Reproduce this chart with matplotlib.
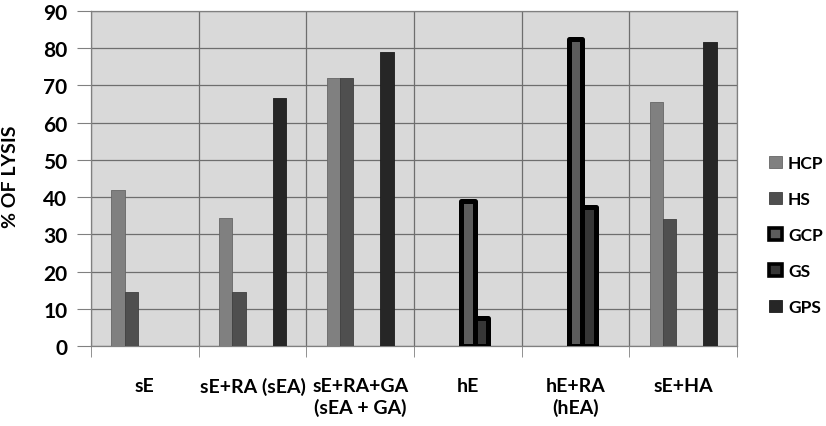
import numpy as np
import matplotlib
matplotlib.use("Agg")
import matplotlib.pyplot as plt

# data
groups = ["sE", "sE+RA (sEA)", "sE+RA+GA\n(sEA + GA)", "hE", "hE+RA\n(hEA)", "sE+HA"]
series = ["HCP", "HS", "GCP", "GS", "GPS"]
hcp = [42, 34.4, 72, None, None, 65.5]
hs = [14.5, 14.5, 72, None, None, 34]
gcp = [None, None, None, 39, 82.5, None]
gs = [None, None, None, 7.5, 37.3, None]
gps = [None, 66.6, 78.9, None, None, 81.6]

fills = ["#808080", "#4f4f4f", "#5c5c5c", "#363636", "#262626"]
edges = ["#666666", "#404040", "#000000", "#000000", "#1c1c1c"]
lws = [0.6, 0.6, 3.6, 3.6, 0.6]

plt.rcParams['font.family'] = ['Lato', 'DejaVu Sans']
plt.rcParams['font.weight'] = 'bold'

fig = plt.figure(figsize=(8.26, 4.27), dpi=100)
ax = fig.add_axes([91/826, 80/427, 646/826, 335/427])
ax.set_facecolor("#d9d9d9")

x = np.arange(len(groups))
w = 1/8
for i, vals in enumerate([hcp, hs, gcp, gs, gps]):
    v = np.array([np.nan if a is None else a for a in vals], dtype=float)
    ax.bar(x + (i - 2)*w, v, w, color=fills[i], edgecolor=edges[i],
           linewidth=lws[i], label=series[i], zorder=3, joinstyle='round')

ax.set_xlim(-0.5, len(groups) - 0.5)
ax.set_ylim(0, 90)
ax.set_yticks(np.arange(0, 91, 10))
ax.set_xticks(x)
ax.set_xticklabels(groups, fontsize=14, fontweight='bold', linespacing=1.3)
ax.set_xticks(np.arange(-0.5, len(groups), 1), minor=True)
ax.tick_params(axis='x', which='major', length=0, pad=22)
ax.tick_params(axis='x', which='minor', length=8, color="#808080", direction='out')
ax.tick_params(axis='y', length=10, color="#808080", labelsize=15, pad=7)
for lab in ax.get_yticklabels():
    lab.set_fontweight('bold')
ax.grid(axis='y', which='major', color="#6e6e6e", linewidth=0.9, zorder=1)
ax.grid(axis='x', which='minor', color="#6e6e6e", linewidth=0.9, zorder=1)
ax.set_axisbelow(True)
for s in ax.spines.values():
    s.set_color("#808080")
    s.set_linewidth(0.9)

fig.text(11/826, 1 - 177/427, "% OF LYSIS", rotation=90, ha='center', va='center',
         fontsize=14, fontweight='bold')

leg = fig.legend(loc='center left', bbox_to_anchor=(769/826, 1 - 236/427), frameon=False,
                 fontsize=12.5, handlelength=0.75, handleheight=0.75, handletextpad=0.35,
                 labelspacing=1.15, borderpad=0, borderaxespad=0)
for h, lw in zip(leg.legend_handles, lws):
    h.set_linewidth(min(lw, 2.6))

fig.savefig("out.png", dpi=100)
